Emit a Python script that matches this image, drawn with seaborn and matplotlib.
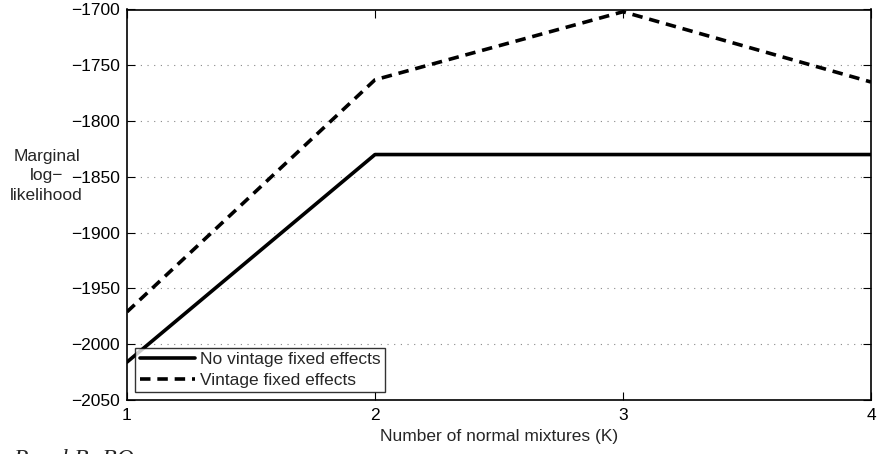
import matplotlib
matplotlib.use("Agg")
import matplotlib.pyplot as plt
import seaborn as sns
import pandas as pd

# Marginal log-likelihood by number of normal mixtures
mixtures = [1, 2, 3, 4]
no_vintage = [-2016, -1830, -1830, -1830]
vintage = [-1971, -1763, -1702, -1765]
series_names = ["No vintage fixed effects", "Vintage fixed effects"]
y_ticks = [-2050, -2000, -1950, -1900, -1850, -1800, -1750, -1700]

df = pd.DataFrame({
    "K": mixtures * 2,
    "loglik": no_vintage + vintage,
    "model": [series_names[0]] * len(mixtures) + [series_names[1]] * len(mixtures),
})

sns.set_style("white")
plt.rcParams["font.family"] = ["Liberation Sans", "DejaVu Sans"]
FS = 12.5

fig = plt.figure(figsize=(8.79, 4.54), dpi=100)
ax = fig.add_axes([127 / 879, 1 - 400 / 454, (871 - 127) / 879, (400 - 9.5) / 454])

sns.lineplot(
    data=df, x="K", y="loglik", hue="model", style="model",
    palette=["black", "black"],
    dashes={series_names[0]: "", series_names[1]: (2.9, 1.9)},
    linewidth=2.6, ax=ax, legend=True,
)

ax.set_xlim(1, 4)
ax.set_ylim(-2050, -1700)
ax.set_xticks(mixtures)
ax.set_yticks(y_ticks)
ax.set_yticklabels([f"\u2212{abs(v)}" for v in y_ticks])
ax.yaxis.grid(True, linestyle=(0, (1, 5)), color="#888888", linewidth=0.8)
ax.xaxis.grid(False)
ax.tick_params(direction="in", length=6, width=0.8, labelsize=FS, colors="black",
               top=True, right=True, bottom=True, left=True)
ax.tick_params(axis="y", pad=5)
ax.tick_params(axis="x", pad=6)
for s in ax.spines.values():
    s.set_color("black")
    s.set_linewidth(1.2)

ax.set_xlabel("Number of normal mixtures (K)", fontsize=FS, labelpad=4)
ax.set_ylabel("Marginal\nlog\u2212\nlikelihood", rotation=0, fontsize=FS,
              ha="center", va="center", linespacing=1.35)
ax.yaxis.set_label_coords(-0.108, 0.574)

leg = ax.legend(loc="lower left", bbox_to_anchor=(0.011, 0.02), frameon=True,
                fancybox=False, edgecolor="black", fontsize=FS,
                handlelength=3.2, borderpad=0.25, labelspacing=0.3, handletextpad=0.3,
                borderaxespad=0)
leg.get_frame().set_linewidth(1.0)
leg.set_title(None)

fig.text(0.015, 1 - 448 / 454, "Panel B: BQ", fontsize=17, style="italic",
         family=["Liberation Serif", "DejaVu Serif"], va="top", ha="left")

fig.savefig("out.png", dpi=100)
